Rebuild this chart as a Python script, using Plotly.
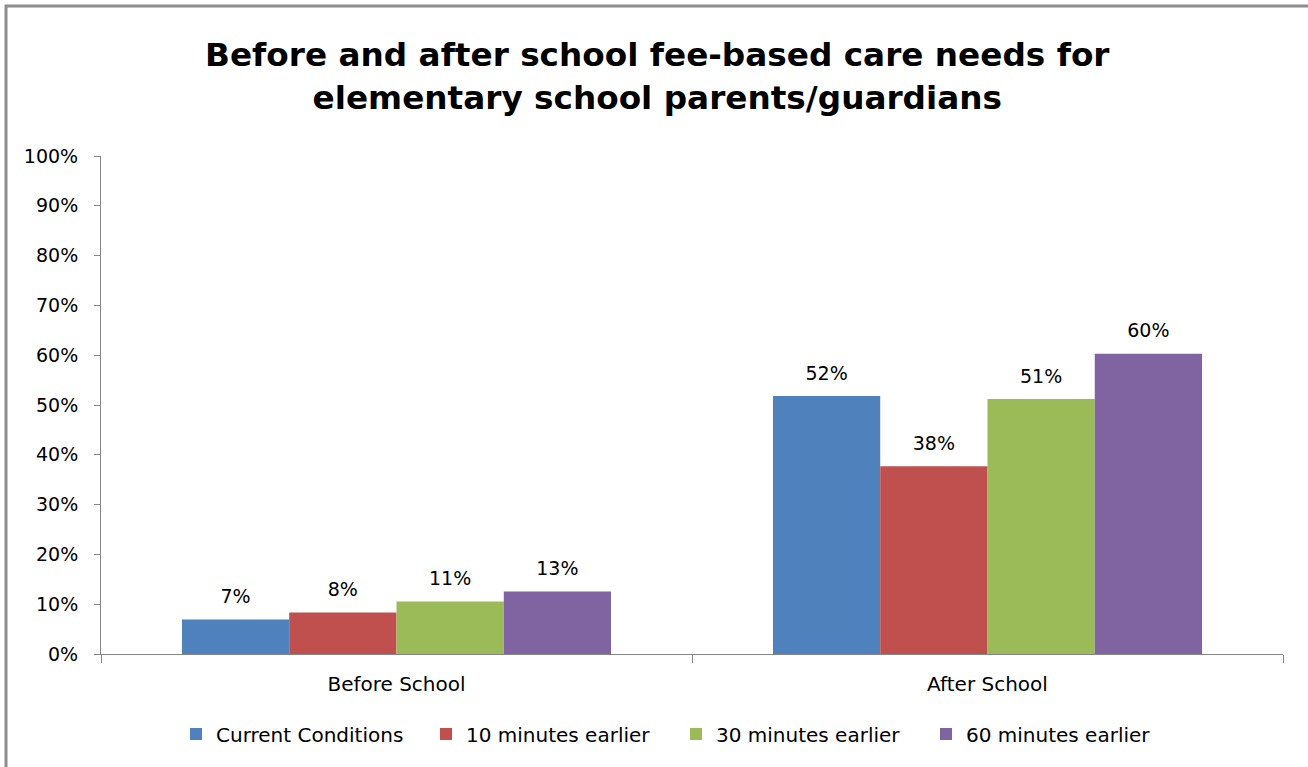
import plotly.graph_objects as go

# Chart data
categories = ["Before School", "After School"]
series_names = ["Current Conditions", "10 minutes earlier", "30 minutes earlier", "60 minutes earlier"]
current_conditions = [0.0695, 0.518]
ten_min_earlier = [0.0835, 0.377]
thirty_min_earlier = [0.1055, 0.512]
sixty_min_earlier = [0.1255, 0.603]
y_tick_values = [i / 10 for i in range(11)]
y_tick_labels = [f"{i * 10}%" for i in range(11)]

series_values = [current_conditions, ten_min_earlier, thirty_min_earlier, sixty_min_earlier]
colors = ["#4F81BD", "#C0504D", "#9BBB59", "#8064A2"]

W, H = 1308, 767
ML, MR, MT, MB = 101, 25, 156, 113
PW, PH = W - ML - MR, H - MT - MB
FONT = "DejaVu Sans"
AXIS_GRAY = "#868686"
BAR_GAP = 0.274
LABEL_SIZE = 19
TEXT_SIZE = 20

fig = go.Figure()

for name, vals, col in zip(series_names, series_values, colors):
    fig.add_trace(go.Bar(
        name=name, x=categories, y=vals, marker=dict(color=col, line=dict(width=0)),
        offsetgroup=name, hoverinfo="x+y+name",
    ))

# value labels sitting above each bar (invisible markers lift the text)
for name, vals in zip(series_names, series_values):
    fig.add_trace(go.Scatter(
        x=categories, y=vals, mode="markers+text", offsetgroup=name,
        marker=dict(size=17, opacity=0), text=[f"{v:.0%}" for v in vals],
        textposition="top center", textfont=dict(family=FONT, size=LABEL_SIZE, color="#000"),
        showlegend=False, hoverinfo="skip", cliponaxis=False,
    ))

def px_x(p):
    return (p - ML) / PW

def px_y(p):
    return (MT + PH - p) / PH

# outer chart frame (top and left edges visible)
frame = dict(color="#8C8C8C", width=3)
fig.add_shape(type="line", xref="paper", yref="paper", x0=px_x(5), x1=px_x(W + 10),
              y0=px_y(6), y1=px_y(6), line=frame)
fig.add_shape(type="line", xref="paper", yref="paper", x0=px_x(6), x1=px_x(6),
              y0=px_y(5), y1=px_y(H + 10), line=frame)

fig.update_layout(
    width=W, height=H,
    margin=dict(l=ML, r=MR, t=MT, b=MB),
    paper_bgcolor="white", plot_bgcolor="white",
    barmode="group", bargap=BAR_GAP, bargroupgap=0,
    scattermode="group", scattergap=BAR_GAP,
    font=dict(family=FONT, color="#000"),
    title=dict(
        text="<b>Before and after school fee-based care needs for<br>elementary school parents/guardians</b>",
        x=0.5025, xanchor="center", xref="container",
        y=1 - 66 / H, yanchor="top", yref="container",
        font=dict(family=FONT, size=32.7, color="#000"),
    ),
    showlegend=True,
    legend=dict(
        orientation="h", x=0.5 - 16 / PW, xanchor="center", y=px_y(734), yanchor="middle",
        font=dict(family=FONT, size=TEXT_SIZE, color="#000"),
        itemwidth=30, entrywidth=205, entrywidthmode="pixels",
        traceorder="normal", bgcolor="rgba(0,0,0,0)",
    ),
    xaxis=dict(
        type="category", showline=True, linecolor=AXIS_GRAY, linewidth=1,
        ticks="outside", tickson="boundaries", ticklen=8, tickcolor=AXIS_GRAY,
        tickfont=dict(family=FONT, size=TEXT_SIZE, color="#000"), showgrid=False,
        ticklabelstandoff=12,
    ),
    yaxis=dict(
        range=[0, 1], tickvals=y_tick_values, ticktext=y_tick_labels,
        showline=True, linecolor=AXIS_GRAY, linewidth=1,
        ticks="outside", ticklen=6, tickcolor=AXIS_GRAY, showgrid=False,
        zeroline=False, tickfont=dict(family=FONT, size=LABEL_SIZE, color="#000"),
        ticklabelstandoff=12,
    ),
)

fig.write_html("out.html")
